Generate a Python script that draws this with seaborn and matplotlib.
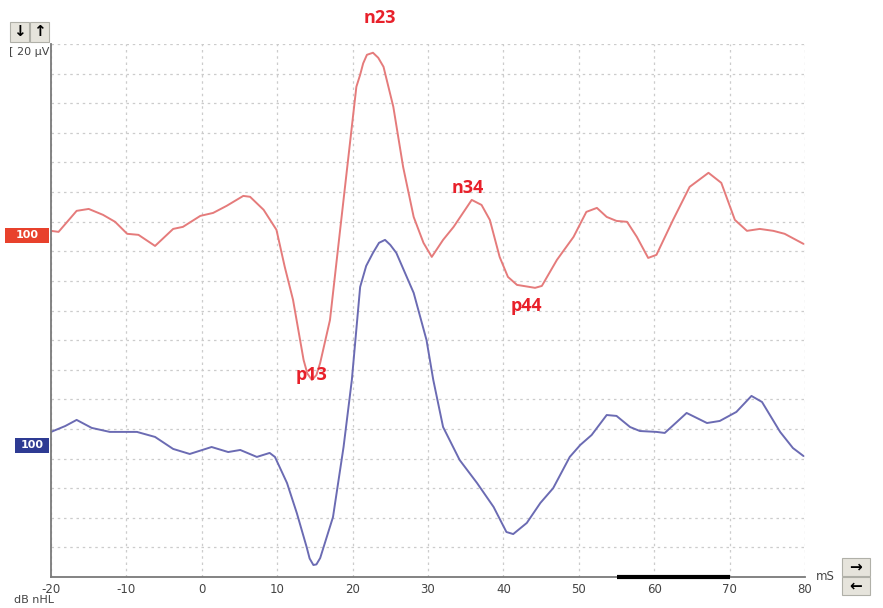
import numpy as np
import pandas as pd
import matplotlib.pyplot as plt
import seaborn as sns
from matplotlib.patches import Rectangle

# Traces (time in ms, amplitude in uV relative to the trace baseline)
red_t = [-20, -19, -16.6, -15, -13.1, -11.5, -9.9, -8.4, -6.2, -3.8, -2.5, -0.2, 1.5, 3.3, 5.5,
         6.4, 8.2, 9.9, 11.0, 12.1, 13.5, 14.0, 14.6, 15.2, 15.7, 17.0, 18.3, 19.4, 20.5, 21.0, 21.4,
         21.9, 22.7, 23.4, 24.1,
         25.4, 26.7, 28.1, 29.4, 30.5, 32.0, 33.4, 35.8, 37.1, 38.2, 39.5, 40.6, 41.8, 44.2, 45.1,
         47.1, 49.3, 51.0, 52.4, 53.7, 55.0, 56.4, 57.7, 59.2, 60.3, 62.5, 64.7, 67.2, 68.9, 70.7,
         72.3, 74.0, 75.8, 77.3, 79.8]
red_uv = [3.4, 2.7, 16.9, 18.2, 14.2, 9.5, 1.4, 0.7, -6.8, 4.7, 6.1, 13.5, 15.5, 20.3, 27.0,
          26.4, 17.6, 4.1, -20.9, -43.2, -83.8, -93.0, -97.3, -94.0, -85.8, -56.8, 2.0, 51.4, 100.7, 108.8, 116.5,
          122.3, 123.7, 120.3, 114.2,
          87.2, 46.6, 12.8, -4.7, -14.2, -2.7, 6.1, 24.3, 20.9, 10.8, -14.2, -27.7, -33.1, -35.1, -33.8,
          -16.2, -0.7, 16.2, 18.9, 12.8, 10.1, 9.5, -0.7, -14.9, -12.8, 10.8, 33.1, 42.6, 35.8, 10.8,
          3.4, 4.7, 3.4, 1.4, -5.4]

blue_t = [-20, -18.1, -16.6, -14.6, -12.2, -8.6, -6.2, -3.8, -1.6, 1.3, 3.5, 5.1, 7.3, 9.0, 9.7,
          11.3, 12.6, 13.9, 14.3, 14.8, 15.2, 15.7, 17.4, 18.8, 19.9, 21.0, 21.8, 22.7, 23.5, 24.3, 25.0,
          25.8, 28.1, 29.8, 30.7,
          32.0, 34.2, 36.5, 38.7, 40.4, 41.3, 43.1, 44.9, 46.6, 48.8, 50.2, 51.7, 53.7, 55.0, 56.8,
          58.1, 60.3, 61.4, 63.0, 64.3, 67.0, 68.7, 70.9, 72.9, 74.3, 76.7, 78.4, 79.8]
blue_uv = [9.5, 13.5, 17.6, 12.2, 9.5, 9.5, 6.1, -2.0, -5.4, -0.7, -4.1, -2.7, -7.4, -4.7, -7.4,
           -25.0, -45.3, -68.2, -76.0, -80.4, -80.0, -75.7, -48.0, -0.7, 44.6, 107.4, 121.6, 130.4, 137.2, 139.2, 135.8,
           130.4, 103.4, 71.6, 44.6,
           12.8, -9.5, -25.0, -41.2, -58.1, -59.5, -52.0, -38.5, -28.5, -7.4, 0.7, 7.4, 20.9, 20.3, 12.8,
           10.1, 9.5, 8.8, 16.2, 22.3, 15.5, 16.9, 23.0, 33.8, 29.7, 9.5, -1.4, -6.8]

# display baselines of the two stacked traces (uV on the screen scale)
red_base = 230.4
blue_base = 88.5

peaks = ["n23", "p13", "n34", "p44"]
peak_t = [23.6, 14.6, 35.3, 43.1]
peak_y = [377.7, 136.5, 262.8, 183.1]

x_ticks = [-20, -10, 0, 10, 20, 30, 40, 50, 60, 70, 80]

df = pd.concat([
    pd.DataFrame({"ms": red_t, "uv": np.array(red_uv) + red_base, "trace": "red"}),
    pd.DataFrame({"ms": blue_t, "uv": np.array(blue_uv) + blue_base, "trace": "blue"}),
])

sns.set_style("white")
plt.rcParams["font.family"] = ["DejaVu Sans"]

W, H = 883, 608
fig = plt.figure(figsize=(W / 100, H / 100), dpi=100)
ax = fig.add_axes([51 / W, 1 - 577 / H, (805 - 51) / W, (577 - 44) / H])

sns.lineplot(data=df, x="ms", y="uv", hue="trace", units="trace", estimator=None,
             palette={"red": "#e57b7b", "blue": "#6b6bb3"}, linewidth=1.4,
             legend=False, sort=False, ax=ax)

ax.set_xlim(-20, 80)
ax.set_ylim(0, 360)
ax.set_xticks(x_ticks)
ax.set_xticklabels([str(v) for v in x_ticks], fontsize=8.5, color="#444444")
ax.set_yticks(np.arange(0, 361, 20))
ax.set_yticklabels([])
ax.tick_params(length=0, pad=4)
ax.grid(True, color="#cccccc", linestyle=(0, (2, 3)), linewidth=0.9)
ax.set_xlabel("")
ax.set_ylabel("")
for s in ["top", "right"]:
    ax.spines[s].set_visible(False)
for s in ["left", "bottom"]:
    ax.spines[s].set_color("#7a7a7a")
    ax.spines[s].set_linewidth(1.3)

# analysis window marker on the time axis
ax.plot([55, 70], [0, 0], color="black", linewidth=3, clip_on=False,
        solid_capstyle="butt", zorder=10)

for name, t, y in zip(peaks, peak_t, peak_y):
    ax.text(t, y, name, color="#e8202a", fontsize=13, fontweight="bold",
            family=["Open Sans", "DejaVu Sans"], ha="center", va="center", clip_on=False)


def px(x, y):
    return x / W, 1 - y / H


# baseline labels
for (x0, y0, x1, y1), col in [((5, 228, 49, 243), "#e8412c"), ((15, 438, 49, 453), "#2e3b93")]:
    fig.patches.append(Rectangle(px(x0, y1), (x1 - x0) / W, (y1 - y0) / H,
                                 transform=fig.transFigure, facecolor=col, edgecolor="none"))
    fig.text(*px((x0 + x1) / 2, (y0 + y1) / 2), "100", color="white", fontsize=8,
             fontweight="bold", ha="center", va="center")

# scale buttons
for (x0, y0, x1, y1), sym in [((10, 22, 29, 42), "\u2193"), ((30, 22, 49, 42), "\u2191"),
                              ((842, 558, 870, 576), "\u2192"), ((842, 577, 870, 595), "\u2190")]:
    fig.patches.append(Rectangle(px(x0, y1), (x1 - x0) / W, (y1 - y0) / H,
                                 transform=fig.transFigure, facecolor="#e6e4dc",
                                 edgecolor="#b0b0a8", linewidth=0.8))
    fig.text(*px((x0 + x1) / 2, (y0 + y1) / 2), sym, color="black", fontsize=11,
             fontweight="bold", ha="center", va="center")

fig.text(*px(9, 52), "[ 20 \u00b5V", fontsize=8, color="#444444", va="center", ha="left")
fig.text(*px(14, 600), "dB nHL", fontsize=8, color="#444444", va="center", ha="left")
fig.text(*px(816, 577), "mS", fontsize=8.5, color="#444444", va="center", ha="left")

fig.savefig("out.png", dpi=100)
